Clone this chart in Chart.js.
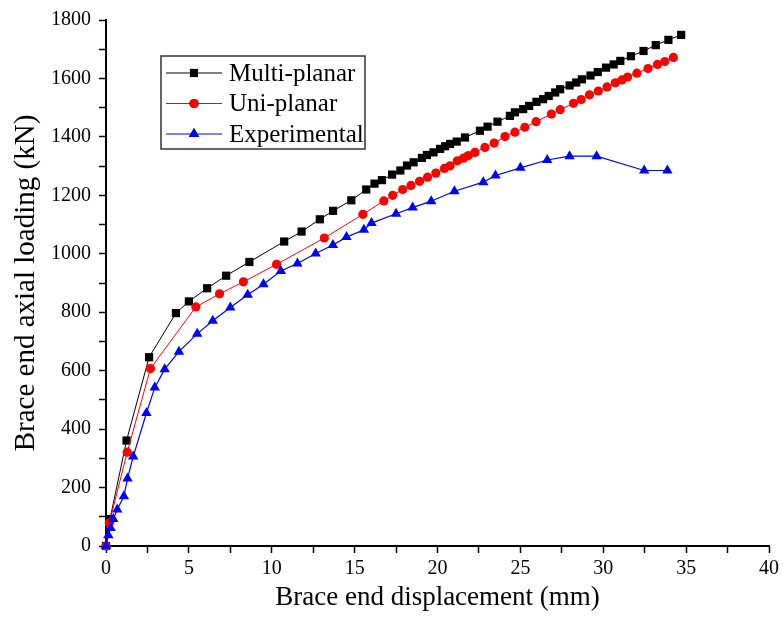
<!DOCTYPE html>
<html>
<head>
<meta charset="utf-8">
<script src="https://cdn.jsdelivr.net/npm/chart.js@4.4.0/dist/chart.umd.min.js"></script>
<style>
  html, body { margin: 0; padding: 0; background: #fff; }
  canvas { display: block; }
</style>
</head>
<body>
<canvas id="chart" width="783" height="617"></canvas>
<script>
// displacement (mm) / load (kN)
const multiX = [0, 0.24, 1.24, 2.6, 4.22, 5.0, 6.1, 7.25, 8.65, 10.75, 11.8, 12.9, 13.7, 14.8, 15.7, 16.2, 16.65, 17.26, 17.76, 18.16, 18.56, 19.06, 19.36, 19.76, 20.16, 20.46, 20.76, 21.16, 21.66, 22.56, 23.02, 23.62, 24.37, 24.67, 25.17, 25.53, 25.97, 26.37, 26.71, 27.1, 27.4, 27.97, 28.37, 28.71, 29.23, 29.67, 30.17, 30.63, 31.03, 31.67, 32.43, 33.17, 33.93, 34.7];
const multiY = [0, 92, 361, 646, 797, 837, 882, 925, 972, 1042, 1076, 1118, 1147, 1183, 1220, 1240, 1252, 1271, 1285, 1302, 1313, 1328, 1338, 1347, 1359, 1368, 1376, 1384, 1398, 1421, 1435, 1452, 1472, 1484, 1495, 1506, 1520, 1529, 1540, 1552, 1563, 1576, 1586, 1597, 1610, 1622, 1637, 1648, 1660, 1676, 1694, 1714, 1732, 1749];

const uniX = [0, 0.2, 1.28, 2.68, 5.42, 6.85, 8.29, 10.29, 13.17, 15.5, 16.76, 17.3, 17.9, 18.4, 18.92, 19.4, 19.9, 20.42, 20.76, 21.2, 21.56, 21.86, 22.26, 22.86, 23.42, 24.07, 24.67, 25.27, 25.95, 26.87, 27.4, 28.2, 28.67, 29.17, 29.7, 30.23, 30.73, 31.13, 31.47, 32.03, 32.7, 33.27, 33.71, 34.23];
const uniY = [0, 79, 321, 607, 818, 863, 904, 964, 1054, 1135, 1181, 1200, 1220, 1234, 1248, 1262, 1276, 1292, 1301, 1318, 1327, 1336, 1347, 1364, 1379, 1401, 1416, 1433, 1452, 1478, 1493, 1515, 1528, 1544, 1557, 1571, 1585, 1595, 1605, 1618, 1634, 1648, 1658, 1672];

const expX = [0, 0.14, 0.28, 0.44, 0.68, 1.08, 1.3, 1.64, 2.44, 2.94, 3.54, 4.4, 5.5, 6.44, 7.5, 8.55, 9.5, 10.55, 11.55, 12.65, 13.69, 14.51, 15.56, 16.02, 17.5, 18.5, 19.62, 21.02, 22.76, 23.5, 25.0, 26.62, 27.97, 29.6, 32.47, 33.87];
const expY = [0, 37, 62, 92, 125, 170, 231, 306, 455, 542, 605, 665, 726, 771, 816, 860, 896, 941, 967, 1001, 1030, 1057, 1082, 1105, 1137, 1158, 1180, 1214, 1245, 1268, 1294, 1321, 1334, 1334, 1285, 1285];

const seriesNames = ['Multi-planar', 'Uni-planar', 'Experimental'];

const serif = '"Liberation Serif", "Times New Roman", serif';

function toPoints(xs, ys) {
    return xs.map((x, i) => ({ x: x, y: ys[i] }));
}

// legend box drawn by hand: line sample with the marker in the middle
const boxLegend = {
    id: 'boxLegend',
    afterDraw(chart) {
        const ctx = chart.ctx;
        const area = chart.chartArea;
        const left = area.left + 55;
        const top = area.top + 36;
        const w = 204, h = 93;
        ctx.save();
        ctx.fillStyle = '#fff';
        ctx.fillRect(left, top, w, h);
        ctx.strokeStyle = '#333';
        ctx.lineWidth = 1.5;
        ctx.strokeRect(left, top, w, h);
        ctx.font = '25px ' + serif;
        ctx.textBaseline = 'middle';
        chart.data.datasets.forEach((ds, i) => {
            const y = top + 17 + i * 30.5;
            ctx.strokeStyle = ds.borderColor;
            ctx.lineWidth = 1;
            ctx.beginPath();
            ctx.moveTo(left + 5, y);
            ctx.lineTo(left + 61, y);
            ctx.stroke();
            Chart.helpers.drawPoint(ctx, {
                pointStyle: ds.pointStyle,
                radius: ds.pointRadius,
                borderWidth: 0
            }, left + 33, y);
            ctx.fillStyle = ds.pointBackgroundColor;
            ctx.fill();
            ctx.fillStyle = '#000';
            ctx.fillText(ds.label, left + 68, y + 1);
        });
        ctx.restore();
    }
};

const ctx = document.getElementById('chart').getContext('2d');

new Chart(ctx, {
    type: 'line',
    data: {
        datasets: [
            {
                label: seriesNames[0],
                data: toPoints(multiX, multiY),
                borderColor: '#000',
                backgroundColor: '#000',
                pointBackgroundColor: '#000',
                pointBorderWidth: 0,
                borderWidth: 1,
                pointStyle: 'rect',
                pointRadius: 5.8,
                order: 3,
                clip: false
            },
            {
                label: seriesNames[1],
                data: toPoints(uniX, uniY),
                borderColor: '#ff0000',
                backgroundColor: '#ff0000',
                pointBackgroundColor: '#ff0000',
                pointBorderWidth: 0,
                borderWidth: 1,
                pointStyle: 'circle',
                pointRadius: 4.6,
                order: 2,
                clip: false
            },
            {
                label: seriesNames[2],
                data: toPoints(expX, expY),
                borderColor: '#0000ff',
                backgroundColor: '#0000ff',
                pointBackgroundColor: '#0000ff',
                pointBorderWidth: 0,
                borderWidth: 1.2,
                pointStyle: 'triangle',
                pointRadius: 6,
                order: 1,
                clip: false
            }
        ]
    },
    options: {
        responsive: false,
        animation: false,
        layout: { padding: { left: 0, right: 8, top: 17, bottom: 0 } },
        plugins: {
            legend: { display: false },
            tooltip: { enabled: false }
        },
        scales: {
            x: {
                type: 'linear',
                min: 0,
                max: 40,
                afterFit: function(scale) { scale.height = 71; },
                border: { display: true, color: '#000', width: 2 },
                grid: { drawOnChartArea: false, drawTicks: true, tickLength: 7, tickColor: '#000', tickWidth: 1.5 },
                ticks: {
                    stepSize: 2.5,
                    autoSkip: false,
                    maxRotation: 0,
                    padding: 4,
                    color: '#000',
                    font: { family: serif, size: 20 },
                    callback: function(v) { return v % 5 === 0 ? v : ''; }
                },
                title: {
                    display: true,
                    text: 'Brace end displacement (mm)',
                    color: '#000',
                    font: { family: serif, size: 27 },
                    padding: { top: 0, bottom: 3 }
                }
            },
            y: {
                type: 'linear',
                min: 0,
                max: 1800,
                afterFit: function(scale) { scale.width = 106; },
                border: { display: true, color: '#000', width: 2 },
                grid: { drawOnChartArea: false, drawTicks: true, tickLength: 7, tickColor: '#000', tickWidth: 1.5 },
                ticks: {
                    stepSize: 100,
                    autoSkip: false,
                    padding: 8,
                    color: '#000',
                    font: { family: serif, size: 20 },
                    callback: function(v) { return v % 200 === 0 ? v : ''; }
                },
                title: {
                    display: true,
                    text: 'Brace end axial loading (kN)',
                    color: '#000',
                    font: { family: serif, size: 29 },
                    padding: { top: 9, bottom: 0 }
                }
            }
        }
    },
    plugins: [boxLegend]
});
</script>
</body>
</html>
